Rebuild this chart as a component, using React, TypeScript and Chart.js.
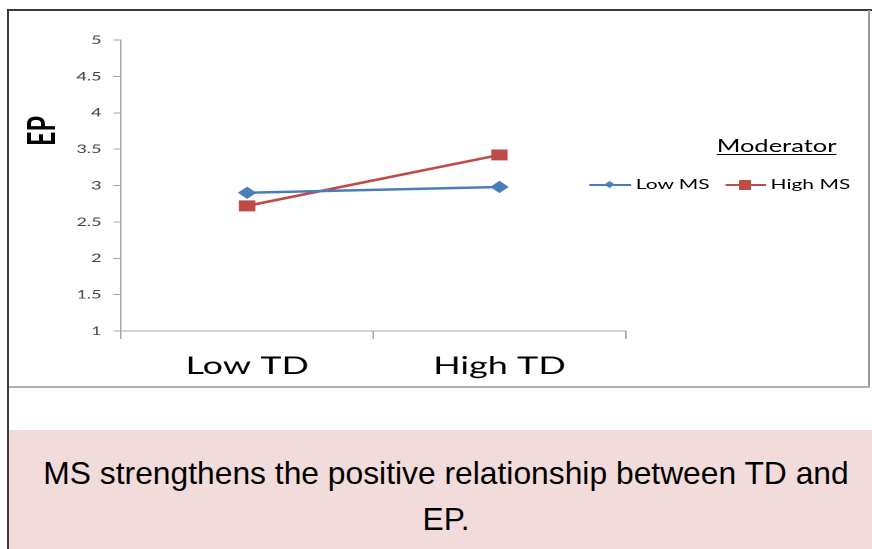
import React, { useEffect, useRef } from "react";
import { Chart, registerables } from "chart.js";

Chart.register(...registerables);

// ---- data ----
const categories = ["Low TD", "High TD"];
const seriesNames = ["Low MS", "High MS"];
const lowMS = [2.9, 2.98];
const highMS = [2.72, 3.42];
const yMin = 1;
const yMax = 5;
const yStep = 0.5;
const yTitle = "EP";
const legendTitle = "Moderator";
const captionLines = [
  "MS strengthens the positive relationship between TD and",
  "EP.",
];

// ---- style ----
const BLUE = "#4a7ebb";
const RED = "#be4b48";
const AXIS = "#a6a6a6";
const FONT = "Lato, 'Open Sans', sans-serif";
const BOX_W = 573; // unscaled chart box width
const BOX_H = 374;
const SX = 859 / BOX_W; // horizontal stretch of the chart box

export default function App() {
  const ref = useRef<HTMLCanvasElement | null>(null);

  useEffect(() => {
    if (!ref.current) return;
    const chart = new Chart(ref.current, {
      type: "line",
      data: {
        labels: categories,
        datasets: [
          {
            label: seriesNames[0],
            data: lowMS,
            borderColor: BLUE,
            backgroundColor: BLUE,
            borderWidth: 2.5,
            pointStyle: "rectRot",
            pointRadius: 5.5,
            pointBorderWidth: 1,
            tension: 0,
          },
          {
            label: seriesNames[1],
            data: highMS,
            borderColor: RED,
            backgroundColor: RED,
            borderWidth: 2.5,
            pointStyle: "rect",
            pointRadius: 7,
            pointBorderWidth: 1,
            tension: 0,
          },
        ],
      },
      options: {
        responsive: false,
        animation: false,
        devicePixelRatio: 2,
        layout: { padding: { top: 29, right: 161.7, bottom: 0, left: 0 } },
        plugins: {
          legend: { display: false },
          tooltip: { enabled: false },
        },
        scales: {
          x: {
            type: "category",
            offset: true,
            grid: {
              offset: true,
              drawOnChartArea: false,
              drawTicks: true,
              tickLength: 8,
              color: AXIS,
            },
            border: { color: AXIS },
            ticks: {
              font: { family: FONT, size: 24 },
              color: "#000",
              padding: 13,
              maxRotation: 0,
            },
            afterFit: (s: any) => {
              s.height = 54;
            },
          },
          y: {
            min: yMin,
            max: yMax,
            ticks: {
              stepSize: yStep,
              font: { family: FONT, size: 12 },
              color: "#404040",
              padding: 8,
              callback: (v: any) => String(Number(v)),
            },
            grid: {
              drawOnChartArea: false,
              drawTicks: true,
              tickLength: 5,
              color: AXIS,
            },
            border: { color: AXIS },
            afterFit: (s: any) => {
              s.width = 74.7;
            },
          },
        },
      },
    });
    return () => chart.destroy();
  }, []);

  return (
    <div
      style={{
        position: "absolute",
        left: 0,
        top: 0,
        width: 872,
        height: 549,
        overflow: "hidden",
        background: "#fff",
      }}
    >
      {/* outer dark frame lines */}
      <div style={{ position: "absolute", left: 7, top: 9, width: 2, height: 540, background: "#3a3a3a" }} />
      <div style={{ position: "absolute", left: 7, top: 9, width: 865, height: 2, background: "#3a3a3a" }} />
      {/* chart box right and bottom borders */}
      <div style={{ position: "absolute", left: 868, top: 10, width: 2, height: 378, background: "#9a9a9a" }} />
      <div style={{ position: "absolute", left: 9, top: 386, width: 861, height: 2, background: "#b0b0b0" }} />

      {/* stretched chart box */}
      <div
        style={{
          position: "absolute",
          left: 9,
          top: 11,
          width: BOX_W,
          height: BOX_H,
          transform: `scaleX(${SX})`,
          transformOrigin: "0 0",
        }}
      >
        <canvas ref={ref} width={BOX_W} height={BOX_H} style={{ position: "absolute", left: 0, top: 0 }} />
        {/* y axis title */}
        <div
          style={{
            position: "absolute",
            left: 21 - 30,
            top: 120 - 13,
            width: 60,
            height: 26,
            lineHeight: "26px",
            textAlign: "center",
            transform: "rotate(-90deg)",
            fontFamily: FONT,
            fontWeight: 700,
            fontSize: 25,
            color: "#000",
          }}
        >
          {yTitle}
        </div>
        {/* legend */}
        <div
          style={{
            position: "absolute",
            left: 512 - 60,
            top: 126,
            width: 120,
            textAlign: "center",
            fontFamily: FONT,
            fontSize: 17,
            lineHeight: "17px",
            color: "#000",
            textDecoration: "underline",
            textUnderlineOffset: 2,
          }}
        >
          {legendTitle}
        </div>
        {/* Low MS */}
        <div style={{ position: "absolute", left: 387, top: 173, width: 28, height: 2, background: BLUE }} />
        <div
          style={{
            position: "absolute",
            left: 401 - 2.6,
            top: 174 - 2.6,
            width: 5.2,
            height: 5.2,
            background: BLUE,
            transform: "rotate(45deg)",
          }}
        />
        <div
          style={{
            position: "absolute",
            left: 418,
            top: 166,
            fontFamily: FONT,
            fontSize: 14,
            lineHeight: "14px",
            color: "#000",
            whiteSpace: "nowrap",
          }}
        >
          {seriesNames[0]}
        </div>
        {/* High MS */}
        <div style={{ position: "absolute", left: 478, top: 173, width: 27, height: 2, background: RED }} />
        <div
          style={{
            position: "absolute",
            left: 491 - 3.8,
            top: 174 - 5,
            width: 7.6,
            height: 10,
            background: RED,
          }}
        />
        <div
          style={{
            position: "absolute",
            left: 508,
            top: 166,
            fontFamily: FONT,
            fontSize: 14,
            lineHeight: "14px",
            color: "#000",
            whiteSpace: "nowrap",
          }}
        >
          {seriesNames[1]}
        </div>
      </div>

      {/* caption box */}
      <div style={{ position: "absolute", left: 9, top: 430, width: 863, height: 119, background: "#f2dcdb" }} />
      <div
        style={{
          position: "absolute",
          left: 20,
          top: 450,
          width: 852,
          textAlign: "center",
          fontFamily: "'Liberation Sans', Arial, sans-serif",
          fontSize: 31.8,
          lineHeight: "46px",
          color: "#000",
          whiteSpace: "nowrap",
        }}
      >
        {captionLines[0]}
        <br />
        {captionLines[1]}
      </div>
    </div>
  );
}
